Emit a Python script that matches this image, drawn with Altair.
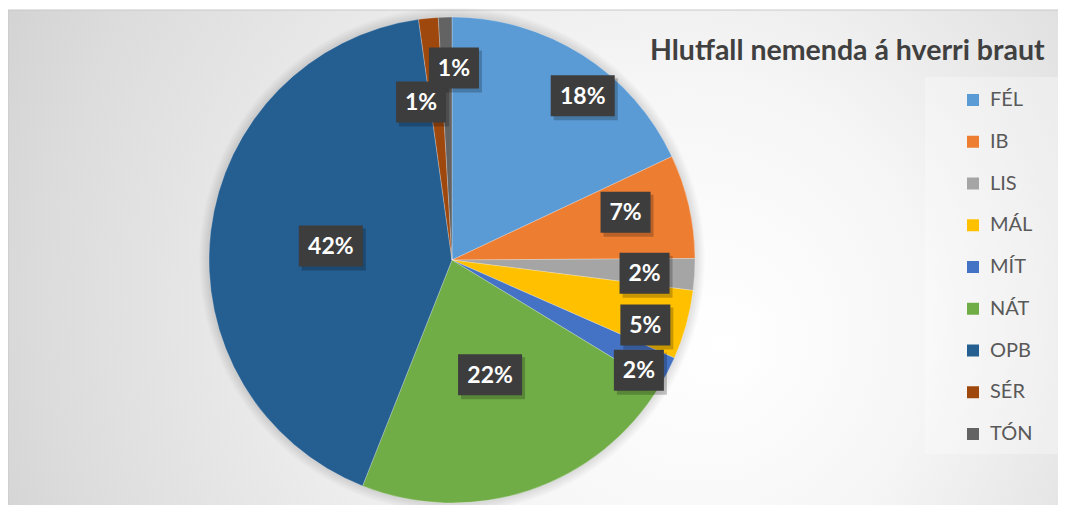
import altair as alt
import pandas as pd

# ---- data ----
categories = ["FÉL", "IB", "LIS", "MÁL", "MÍT", "NÁT", "OPB", "SÉR", "TÓN"]
values = [18.0, 6.9, 2.1, 4.6, 2.1, 22.3, 41.8, 1.3, 0.9]
colors = ["#5b9bd5", "#ed7d31", "#a5a5a5", "#ffc000", "#4472c4",
          "#70ad47", "#255e91", "#9e480e", "#636363"]
title_text = "Hlutfall nemenda á hverri braut"

# ---- label layout (Excel "best fit" placement) ----
label_radius = [210, 180, 193, 204, 217, 121, 122, 161, 192]
label_nudge = [6.1, -2.6, 0.5, 3.1, 3.0, 0.2, -0.2, -5.5, 2.2]

W, H = 1050, 497
CX, CY, R = 444, 252, 243

df = pd.DataFrame({
    "cat": categories,
    "value": values,
    "order": list(range(len(categories))),
    "lr": label_radius,
    "ln": label_nudge,
})
dummy = pd.DataFrame({"a": [0]})

bg = alt.Chart(dummy).mark_rect(
    fill=alt.RadialGradient(
        gradient="radial",
        stops=[alt.GradientStop(color="#ffffff", offset=0),
               alt.GradientStop(color="#f6f6f6", offset=0.3),
               alt.GradientStop(color="#dcdcdc", offset=0.7),
               alt.GradientStop(color="#c3c3c3", offset=1)],
        x1=0.68, y1=0.58, r1=0, x2=0.54, y2=0.52, r2=0.78),
    stroke="#c8c8c8", strokeWidth=1,
).encode(x=alt.value(0), x2=alt.value(W + 6), y=alt.value(2), y2=alt.value(H + 6))

legend_box = alt.Chart(dummy).mark_rect(fill="#ffffff", opacity=0.3).encode(
    x=alt.value(917), x2=alt.value(W + 6), y=alt.value(69), y2=alt.value(446))

shadow = [
    alt.Chart(dummy).mark_arc(radius=R + k, theta=0, theta2=6.2832,
                              color="#000000", opacity=0.01)
    .encode(x=alt.value(CX), y=alt.value(CY))
    for k in range(1, 11)
]

pie = alt.Chart(df).mark_arc(radius=R, stroke="#ffffff", strokeWidth=0.5,
                             strokeOpacity=0.5).encode(
    theta=alt.Theta("value:Q", stack=True),
    order=alt.Order("order:Q"),
    color=alt.Color("cat:N",
                    scale=alt.Scale(domain=categories, range=colors),
                    sort=categories,
                    legend=alt.Legend(orient="none", legendX=955, legendY=82,
                                      title=None, symbolType="square",
                                      symbolSize=144, symbolStrokeWidth=0,
                                      labelFont="Lato", labelFontSize=20,
                                      labelColor="#595959", labelOffset=7,
                                      rowPadding=21.75, padding=0)),
    x=alt.value(CX), y=alt.value(CY),
)

lab_base = alt.Chart(df).transform_joinaggregate(
    total="sum(value)"
).transform_window(
    cum="sum(value)", sort=[alt.SortField("order")], frame=[None, 0]
).transform_calculate(
    ang="((datum.cum - datum.value/2)/datum.total*360 + datum.ln)*PI/180",
    lx=f"{CX} + datum.lr*sin(datum.ang)",
    ly=f"{CY} - datum.lr*cos(datum.ang)",
    lab="format(datum.value/datum.total, '.0%')",
    bw="14*length(datum.lab) + 22",
    bx1="datum.lx - datum.bw/2",
    bx2="datum.lx + datum.bw/2",
    by1="datum.ly - 20.5",
    by2="datum.ly + 20.5",
    sx1="datum.bx1 + 3", sx2="datum.bx2 + 3",
    sy1="datum.by1 + 3", sy2="datum.by2 + 4",
)

lab_shadow = lab_base.mark_rect(color="#000000", opacity=0.22).encode(
    x=alt.X("sx1:Q", scale=None), x2="sx2:Q",
    y=alt.Y("sy1:Q", scale=None), y2="sy2:Q")

lab_box = lab_base.mark_rect(color="#3d3d3d").encode(
    x=alt.X("bx1:Q", scale=None), x2="bx2:Q",
    y=alt.Y("by1:Q", scale=None), y2="by2:Q")

lab_text = lab_base.mark_text(font="Lato", fontWeight="bold", fontSize=23,
                              color="#ffffff", align="center",
                              baseline="middle", dy=1).encode(
    x=alt.X("lx:Q", scale=None), y=alt.Y("ly:Q", scale=None),
    text="lab:N")

title = alt.Chart(dummy).mark_text(text=title_text, font="Lato",
                                   fontWeight="bold", fontSize=28.5,
                                   color="#404040", align="left",
                                   baseline="alphabetic").encode(
    x=alt.value(642), y=alt.value(52))

chart = alt.layer(bg, legend_box, *shadow, pie, lab_shadow, lab_box,
                  lab_text, title).properties(
    width=W, height=H, padding=0, autosize="none"
).configure_view(stroke=None)

chart.save("out.html", embed_options={"renderer": "svg", "actions": False})
